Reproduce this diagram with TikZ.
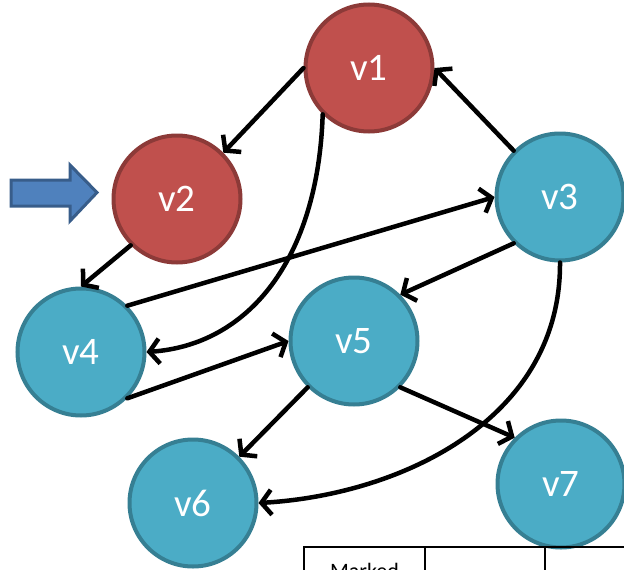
\documentclass[tikz,border=0pt]{standalone}
\usepackage{fontspec}
\setmainfont{Carlito}
\usetikzlibrary{arrows.meta}
\definecolor{redfill}{HTML}{C0504D}
\definecolor{reddraw}{HTML}{8C3A38}
\definecolor{bluefill}{HTML}{4BACC6}
\definecolor{bluedraw}{HTML}{367F93}
\definecolor{arrowfill}{HTML}{4F81BD}
\definecolor{arrowdraw}{HTML}{385D8A}
\tikzset{
  vertex/.style={circle, draw=bluedraw, fill=bluefill, line width=4pt,
    minimum size=127pt, inner sep=0pt, text=white,
    font=\fontsize{39}{44}\selectfont},
  visited/.style={vertex, draw=reddraw, fill=redfill},
  link/.style={line width=4.5pt, line cap=round,
    -{Straight Barb[length=10pt,width=25pt]}},
  grid line/.style={line width=2.2pt}
}
\begin{document}
\begin{tikzpicture}[x=1pt,y=-1pt]
\useasboundingbox (0,0) rectangle (624,570);
\clip (0,0) rectangle (624,570);

% vertices
\node[visited] (v1) at (369,68)  {v1};
\node[visited] (v2) at (177,199) {v2};
\node[vertex]  (v3) at (560,197) {v3};
\node[vertex]  (v4) at (81,352)  {v4};
\node[vertex]  (v5) at (354,341) {v5};
\node[vertex]  (v6) at (193,503) {v6};
\node[vertex]  (v7) at (561,484) {v7};

% directed edges
\draw[link] (v1.west) -- (v2.north east);
\draw[link] (v1.south west) .. controls (318,260) and (248,345) .. (v4.east);
\draw[link] (v3.north west) -- (v1.east);
\draw[link] (v2.south west) -- (v4.north);
\draw[link] (v4.north east) -- (v3.west);
\draw[link] (v4.south east) -- (v5.west);
\draw[link] (v3.south west) -- (v5.north east);
\draw[link] (v5.south west) -- (v6.north east);
\draw[link] (v5.south east) -- (v7.north west);
\draw[link] (v3.south) .. controls (561,420) and (400,495) .. (v6.east);

% pointer to the current vertex
\draw[fill=arrowfill, draw=arrowdraw, line width=3pt]
  (11,180) -- (70,180) -- (70,165) -- (97,192.5) -- (70,221) -- (70,206) -- (11,206) -- cycle;

% table header
\draw[grid line] (304,575) -- (304,547) -- (630,547);
\draw[grid line] (425,547) -- (425,575);
\draw[grid line] (545,547) -- (545,575);
\node[anchor=base, font=\fontsize{22}{26}\selectfont, inner sep=0pt] (marked) at (364.5,578) {Marked};
\end{tikzpicture}
\end{document}
